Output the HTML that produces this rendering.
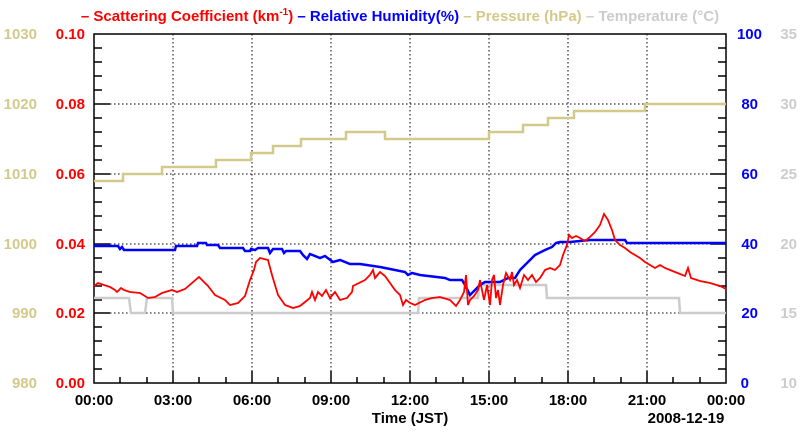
<!DOCTYPE html>
<html><head><meta charset="utf-8"><style>
html,body{margin:0;padding:0;background:#fff;}
svg{display:block;font-family:"Liberation Sans",sans-serif;font-weight:bold;}
</style></head><body>
<svg width="800" height="434" viewBox="0 0 800 434" xmlns="http://www.w3.org/2000/svg">
<!-- title/legend -->
<text x="400" y="21" font-size="15" text-anchor="middle"><tspan fill="#ff0000">– Scattering Coefficient (km</tspan><tspan fill="#ff0000" font-size="10" dy="-6">-1</tspan><tspan fill="#ff0000" dy="6">)</tspan><tspan fill="#0000ff"> – Relative Humidity(%)</tspan><tspan fill="#d2c98a"> – Pressure (hPa)</tspan><tspan fill="#cccccc"> – Temperature (°C)</tspan></text>
<!-- grid -->
<g stroke="#000" stroke-width="1" stroke-dasharray="1.5,2.5">
<line x1="173" y1="34" x2="173" y2="383"/><line x1="252" y1="34" x2="252" y2="383"/><line x1="331" y1="34" x2="331" y2="383"/>
<line x1="410" y1="34" x2="410" y2="383"/><line x1="489" y1="34" x2="489" y2="383"/><line x1="568" y1="34" x2="568" y2="383"/><line x1="647" y1="34" x2="647" y2="383"/>
<line x1="94" y1="104" x2="726" y2="104"/><line x1="94" y1="174" x2="726" y2="174"/><line x1="94" y1="244" x2="726" y2="244"/><line x1="94" y1="313" x2="726" y2="313"/>
</g>
<!-- ticks -->
<g stroke="#000" stroke-width="1.5">
<path d="M94 48h8M94 62h8M94 76h8M94 90h8M94 104h16M94 118h8M94 132h8M94 146h8M94 160h8M94 174h16M94 188h8M94 202h8M94 216h8M94 230h8M94 244h16M94 258h8M94 272h8M94 286h8M94 300h8M94 313h16M94 327h8M94 341h8M94 355h8M94 369h8"/>
<path d="M726 48h-8M726 62h-8M726 76h-8M726 90h-8M726 104h-16M726 118h-8M726 132h-8M726 146h-8M726 160h-8M726 174h-16M726 188h-8M726 202h-8M726 216h-8M726 230h-8M726 244h-16M726 258h-8M726 272h-8M726 286h-8M726 300h-8M726 313h-16M726 327h-8M726 341h-8M726 355h-8M726 369h-8"/>
<path d="M120 383v-6M147 383v-6M173 383v-12M199 383v-6M226 383v-6M252 383v-12M278 383v-6M305 383v-6M331 383v-12M357 383v-6M384 383v-6M410 383v-12M436 383v-6M463 383v-6M489 383v-12M515 383v-6M542 383v-6M568 383v-12M594 383v-6M621 383v-6M647 383v-12M673 383v-6M700 383v-6"/>
</g>
<rect x="94" y="34" width="632" height="349" fill="none" stroke="#000" stroke-width="1.5"/>
<!-- temperature -->
<polyline fill="none" stroke="#cccccc" stroke-width="2.5" points="94,298 129,298 131,313 145,313 147,298 172,298 173,313 418,313 419,298 478,298 479,285 546,285 547,298 679,298 680,313 726,313"/>
<!-- pressure -->
<polyline fill="none" stroke="#d2c98a" stroke-width="2.5" points="94,181 123,181 123,174 162,174 162,167 216,167 216,160 251,160 251,153 273,153 273,146 301,146 301,139 346,139 346,132 385,132 385,139 489,139 489,132 523,132 523,125 548,125 548,118 574,118 574,111 645,111 645,104 726,104"/>
<!-- humidity -->
<polyline fill="none" stroke="#0000ff" stroke-width="2.5" points="94,246 118,246 120,249 122,247 124,250 175,250 176,246 197,246 198,243 206,243 207,245 218,245 220,248 243,248 245,251 250,251 251,249 255,250 258,248 268,248 270,253 273,249 282,249 284,253 286,251 300,251 303,255 307,259 310,254 320,258 325,256 333,262 340,260 350,264 360,264 380,267 395,270 405,272 408,275 412,273 420,275 445,278 450,280 462,280 465,285 470,295 475,290 480,285 485,282 500,282 508,278 515,278 520,270 527,263 535,255 545,250 552,247 556,243 560,242 570,242 590,240 625,240 627,243 726,243"/>
<!-- scattering -->
<polyline fill="none" stroke="#ff0000" stroke-width="1.8" points="94,286 98,283 110,287 115,290 117,292 121,288 124,290 130,292 140,293 148,298 155,297 162,293 172,290 177,292 185,289 199,277 208,286 215,295 225,300 230,305 238,303 245,296 250,280 254,270 256,262 260,258 268,260 272,275 278,295 285,305 293,308 300,306 305,302 310,298 312,292 315,300 318,292 322,296 326,290 330,298 335,292 340,300 347,298 352,292 353,286 365,280 370,275 373,270 375,278 380,272 385,276 390,283 395,290 400,295 403,305 406,300 410,303 415,305 425,300 432,298 440,297 450,300 456,306 460,300 464,292 466,275 468,305 470,300 474,296 478,290 480,280 484,300 487,285 490,305 492,280 494,275 496,298 498,290 500,305 503,285 506,273 510,280 512,272 514,285 517,280 520,288 524,275 528,280 532,275 536,282 540,278 545,270 550,268 555,270 560,265 563,255 567,245 569,235 572,238 576,236 580,238 585,241 590,237 595,232 600,225 604,214 608,220 612,230 615,240 620,245 625,248 630,252 635,255 640,258 645,262 650,265 655,268 660,265 665,268 670,270 675,272 680,274 685,276 688,268 691,278 700,281 710,283 720,286 726,289"/>
<!-- left labels -->
<g font-size="15" text-anchor="end">
<g fill="#d2c98a"><text x="37" y="39">1030</text><text x="37" y="109">1020</text><text x="37" y="179">1010</text><text x="37" y="249">1000</text><text x="37" y="318">990</text><text x="37" y="388">980</text></g>
<g fill="#ff0000"><text x="85" y="39">0.10</text><text x="85" y="109">0.08</text><text x="85" y="179">0.06</text><text x="85" y="249">0.04</text><text x="85" y="318">0.02</text><text x="85" y="388">0.00</text></g>
<g fill="#0000ff"><text x="762" y="39">100</text><text x="758" y="109">80</text><text x="758" y="179">60</text><text x="758" y="249">40</text><text x="758" y="318">20</text><text x="749" y="388">0</text></g>
<g fill="#cccccc"><text x="797" y="39">35</text><text x="797" y="109">30</text><text x="797" y="179">25</text><text x="797" y="249">20</text><text x="797" y="318">15</text><text x="797" y="388">10</text></g>
</g>
<g font-size="15" text-anchor="middle" fill="#000">
<text x="94" y="405">00:00</text><text x="173" y="405">03:00</text><text x="252" y="405">06:00</text><text x="331" y="405">09:00</text><text x="410" y="405">12:00</text><text x="489" y="405">15:00</text><text x="568" y="405">18:00</text><text x="647" y="405">21:00</text><text x="726" y="405">00:00</text>
<text x="410" y="423">Time (JST)</text>
<text x="686" y="423">2008-12-19</text>
</g>
</svg>
</body></html>
